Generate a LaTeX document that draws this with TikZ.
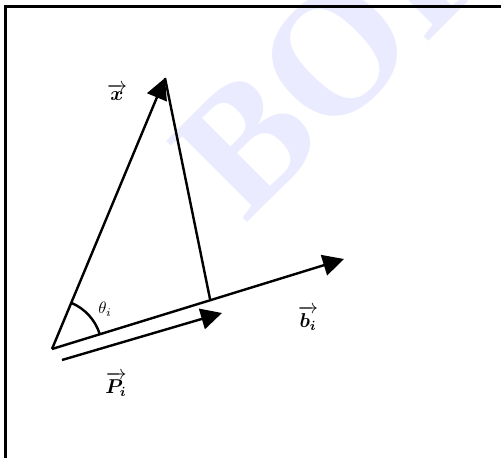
\documentclass[tikz,border=0pt]{standalone}
\usepackage{amsmath,amssymb,bm}
\usepackage{fontspec}
\newfontfamily\wmfont{Liberation Serif}
\usepackage{tikz}
\usetikzlibrary{arrows.meta,calc}
\tikzset{
  vec/.style={-{Triangle[length=12.6pt,width=12.6pt]},line width=1.45pt},
  seg/.style={line width=1.45pt},
  frameline/.style={line width=2.1pt},
  veclbl/.style={font=\large,inner sep=1pt},
  anglbl/.style={font=\normalsize,inner sep=1pt},
  wmark/.style={text=blue!8,font=\wmfont\bfseries\fontsize{105pt}{105pt}\selectfont,
    inner sep=0pt,rotate=45,anchor=base west},
}
\begin{document}
\begin{tikzpicture}[x=0.6pt,y=0.6pt]
  \useasboundingbox (0,0) rectangle (501,457);
  \begin{scope}
    \clip (0,0) rectangle (501,457);
    \node[wmark] (wm) at (245,232) {BOI};
    \draw[frameline] (5.5,-20) -- (5.5,450.5) -- (520,450.5);
  \end{scope}
  \coordinate (O) at (52,108);
  \coordinate (X) at (165,379);
  \coordinate (F) at (210,158);
  \coordinate (B) at (344,198);
  \coordinate (P0) at (62,97);
  \coordinate (P1) at (222,144);
  \draw[vec] (O) -- (X);
  \draw[seg] (X) -- (F);
  \draw[vec] (O) -- (B);
  \draw[vec] (P0) -- (P1);
  \draw[seg] ($(O)+(17.1:50)$) arc[start angle=17.1,end angle=67.4,radius=50];
  \node[veclbl] (xl) at (117,365) {$\overrightarrow{\bm{x}}$};
  \node[anglbl] (tl) at (105,148) {$\theta_i$};
  \node[veclbl] (bl) at (308,139) {$\overrightarrow{\bm{b_i}}$};
  \node[veclbl] (pl) at (116,73) {$\overrightarrow{\bm{P_i}}$};
\end{tikzpicture}
\end{document}
